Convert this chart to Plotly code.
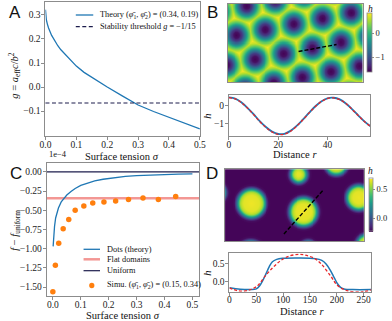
import numpy as np
import plotly.graph_objects as go

W, H = 392, 321
SERIF = "Liberation Serif"
SANS = "Liberation Sans"
FRAME = "#8c8c8c"
BLUE = "#1f77b4"
RED = "#e8262a"
NAVY = "#1c1c4c"
ORANGE = "#ff7f0e"
SALMON = "rgba(236,96,90,0.65)"

# ---------------- Panel A: effective coupling g vs surface tension
sigma_a = [0, 0.001, 0.003, 0.006, 0.01, 0.02, 0.03, 0.04, 0.05, 0.075, 0.1,
           0.125, 0.15, 0.175, 0.2, 0.25, 0.3, 0.35, 0.4, 0.45, 0.5]
g_theory = [0.322, 0.297, 0.279, 0.263, 0.246, 0.215, 0.192, 0.172, 0.155, 0.12, 0.087,
            0.061, 0.04, 0.019, 0.0, -0.038, -0.075, -0.102, -0.125, -0.15, -0.174]
g_threshold = -1 / 15

# ---------------- Panel C: free energy difference (units of 1e-4)
sigma_c_theory = [0.001, 0.003, 0.006, 0.01, 0.015, 0.02, 0.03, 0.04, 0.05, 0.065, 0.08,
                  0.1, 0.125, 0.15, 0.18, 0.22, 0.26, 0.3, 0.35, 0.4, 0.45, 0.5]
df_theory = [-0.97, -0.83, -0.71, -0.6, -0.52, -0.47, -0.39, -0.34, -0.3, -0.255, -0.215,
             -0.175, -0.14, -0.115, -0.095, -0.072, -0.058, -0.047, -0.038, -0.032, -0.028, -0.025]
df_flat = -0.342
df_uniform = 0.0
sigma_c_sim = [0.0, 0.009, 0.021, 0.037, 0.057, 0.08, 0.111, 0.143, 0.183, 0.225, 0.271,
               0.323, 0.378, 0.44]
df_sim = [-1.56, -1.215, -0.93, -0.74, -0.62, -0.50, -0.445, -0.405, -0.393, -0.38, -0.358,
          -0.34, -0.358, -0.32]

# ---------------- Panel B: hexagonal pattern of depressions and its line profile
r_b = [0, 2.5, 5, 7.5, 10, 12.5, 15, 17.5, 20, 22.5, 25, 27.5, 30, 32.5, 35, 37.5,
       40, 42.5, 45, 47.5, 50, 52.5, 55, 57.5]
h_b_theory = [0.45, 0.38, 0.18, -0.12, -0.47, -0.85, -1.17, -1.42, -1.55, -1.54, -1.38, -1.11,
              -0.77, -0.40, -0.05, 0.23, 0.40, 0.43, 0.34, 0.12, -0.19, -0.53, -0.86, -1.13]
h_b_sim = [0.44, 0.37, 0.17, -0.13, -0.49, -0.87, -1.19, -1.44, -1.57, -1.56, -1.40, -1.12,
           -0.78, -0.41, -0.06, 0.22, 0.39, 0.42, 0.33, 0.11, -0.20, -0.54, -0.87, -1.14]
b_dot_x = [-10.3, 19.3, 48.9, 78.5, 108.1, 137.7, -20.7, 8.9, 38.5, 68.1, 97.7, 127.3, 156.9,
           -1.5, 28.1, 57.7, 87.3, 116.9, 146.5, -11.9, 17.7, 47.3, 76.9, 106.5, 136.1, 165.7,
           7.3, 36.9, 66.5, 96.1, 125.7, 155.3]
b_dot_y = [7.7, 2.1, -3.5, -9.1, -14.7, -20.3, 36.9, 31.3, 25.7, 20.1, 14.5, 8.9, 3.3,
           60.5, 54.9, 49.3, 43.7, 38.1, 32.5, 89.7, 84.1, 78.5, 72.9, 67.3, 61.7, 56.1,
           113.3, 107.7, 102.1, 96.5, 90.9, 85.3]
b_rad_d = [0, 3, 6, 9, 12, 15, 17.4, 60]
b_rad_h = [-1.6, -1.5, -1.15, -0.55, 0.1, 0.55, 0.8, 0.83]
b_cut_x = [72.8, 112.0]
b_cut_y = [47.5, 40.5]
b_size = (139.0, 78.0)
b_hrange = (-1.61, 0.85)

# ---------------- Panel D: coarsened bright dots and a profile through one of them
r_d_theory = [0, 20, 40, 50, 56, 62, 68, 74, 80, 88, 100, 130, 160, 172, 180, 188, 195,
              201, 207, 215, 230, 264]
h_d_theory = [-0.17, -0.21, -0.22, -0.2, -0.12, 0.03, 0.22, 0.42, 0.56, 0.63, 0.66, 0.67,
              0.65, 0.6, 0.5, 0.32, 0.12, -0.05, -0.16, -0.21, -0.22, -0.22]
r_d_sim = [0, 15, 33, 51, 66, 81, 96, 111, 129, 141, 159, 171, 189, 201, 219, 249, 264]
h_d_sim = [-0.17, -0.25, -0.25, -0.13, 0.15, 0.4, 0.6, 0.72, 0.77, 0.75, 0.65, 0.5, 0.15,
           -0.1, -0.25, -0.28, -0.23]
d_dot_x = [27.3, 81.0, 76.0, 114.8, 138.0, -8.5, 26.5, 85.7, 146.0]
d_dot_y = [34.0, 42.5, 5.0, -6.0, 28.2, 23.2, 85.6, 79.2, 75.7]
d_dot_R = [14, 14, 8, 11, 12, 8.5, 13.6, 7, 10]
d_edge_d = [0, 8, 10, 11.3, 12.7, 14, 15.4, 16.7, 18, 20, 300]
d_edge_h = [0.67, 0.65, 0.61, 0.56, 0.42, 0.22, 0.03, -0.12, -0.2, -0.22, -0.22]
d_cut_x = [60.7, 101.3]
d_cut_y = [64.7, 20.7]
d_size = (143.3, 71.7)
d_hrange = (-0.23, 0.69)


def px_x(x):
    return x / W


def px_y(y):
    return 1 - y / H


# height fields for the two maps
bx = np.arange(0, b_size[0] + 0.01, 0.5)
by = np.arange(0, b_size[1] + 0.01, 0.5)
BX, BY = np.meshgrid(bx, by)
dist_b = np.sqrt((BX[..., None] - np.array(b_dot_x)) ** 2 + (BY[..., None] - np.array(b_dot_y)) ** 2)
zb = np.interp(dist_b.min(axis=-1), b_rad_d, b_rad_h)

dx = np.arange(0, d_size[0] + 0.01, 0.5)
dy = np.arange(0, d_size[1] + 0.01, 0.5)
DX, DY = np.meshgrid(dx, dy)
dist_d = np.sqrt((DX[..., None] - np.array(d_dot_x)) ** 2 + (DY[..., None] - np.array(d_dot_y)) ** 2)
zd = np.interp(dist_d - np.array(d_dot_R) + 14, d_edge_d, d_edge_h).max(axis=-1)

fig = go.Figure()

# A
fig.add_trace(go.Scatter(x=sigma_a, y=g_theory, mode="lines", line=dict(color=BLUE, width=1.3),
                         xaxis="x", yaxis="y", showlegend=False))
# C
fig.add_trace(go.Scatter(x=sigma_c_theory, y=df_theory, mode="lines", line=dict(color=BLUE, width=1.3),
                         xaxis="x2", yaxis="y2", showlegend=False))
fig.add_trace(go.Scatter(x=sigma_c_sim, y=df_sim, mode="markers",
                         marker=dict(color=ORANGE, size=5.5, line=dict(width=0)),
                         xaxis="x2", yaxis="y2", showlegend=False))
# B map
fig.add_trace(go.Heatmap(
    x=bx, y=by, z=zb, colorscale="Viridis", zmin=b_hrange[0], zmax=b_hrange[1],
    xaxis="x3", yaxis="y3",
    colorbar=dict(x=px_x(372.7), xanchor="left", y=px_y(42.5), yanchor="middle",
                  len=59 / H, thickness=5, xpad=0, ypad=0, outlinewidth=0.8, outlinecolor=FRAME,
                  tickvals=[-1, 0], ticks="outside", ticklen=2, tickcolor=FRAME,
                  tickfont=dict(family=SERIF, size=8.5, color="#222"))))
fig.add_trace(go.Scatter(x=b_cut_x, y=b_cut_y, mode="lines",
                         line=dict(color="black", width=1.4, dash="4px,2px"),
                         xaxis="x3", yaxis="y3", showlegend=False))
# B profile
fig.add_trace(go.Scatter(x=r_b, y=h_b_theory, mode="lines", line=dict(color=BLUE, width=1.8, shape="spline"),
                         xaxis="x4", yaxis="y4", showlegend=False))
fig.add_trace(go.Scatter(x=r_b, y=h_b_sim, mode="lines",
                         line=dict(color=RED, width=1.3, dash="3px,2px", shape="spline"),
                         xaxis="x4", yaxis="y4", showlegend=False))
# D map
fig.add_trace(go.Heatmap(
    x=dx, y=dy, z=zd, colorscale="Viridis", zmin=d_hrange[0], zmax=d_hrange[1],
    xaxis="x5", yaxis="y5",
    colorbar=dict(x=px_x(374), xanchor="left", y=px_y(205), yanchor="middle",
                  len=53.4 / H, thickness=4, xpad=0, ypad=0, outlinewidth=0.8, outlinecolor=FRAME,
                  tickvals=[0, 0.5], tickformat=".1f", ticks="outside", ticklen=2, tickcolor=FRAME,
                  tickfont=dict(family=SERIF, size=8.5, color="#222"))))
fig.add_trace(go.Scatter(x=d_cut_x, y=d_cut_y, mode="lines",
                         line=dict(color="black", width=1.4, dash="4px,2px"),
                         xaxis="x5", yaxis="y5", showlegend=False))
# D profile
fig.add_trace(go.Scatter(x=r_d_theory, y=h_d_theory, mode="lines", line=dict(color=BLUE, width=1.5, shape="spline"),
                         xaxis="x6", yaxis="y6", showlegend=False))
fig.add_trace(go.Scatter(x=r_d_sim, y=h_d_sim, mode="lines",
                         line=dict(color=RED, width=1.3, dash="3px,2px", shape="spline"),
                         xaxis="x6", yaxis="y6", showlegend=False))

tickfont = dict(family=SERIF, size=9.5, color="#222")
common = dict(showgrid=False, zeroline=False, showline=True, mirror=True, linecolor=FRAME,
              linewidth=1, ticks="outside", ticklen=3, tickwidth=1, tickcolor=FRAME,
              tickfont=tickfont)
xcommon = dict(common, ticklabelstandoff=-3)
ycommon = dict(common, ticklabelstandoff=-1)
mapax = dict(showgrid=False, zeroline=False, showline=True, mirror=True, linecolor=FRAME,
             linewidth=1, ticks="", showticklabels=False)

fig.update_layout(
    width=W, height=H, margin=dict(l=0, r=0, t=0, b=0),
    paper_bgcolor="white", plot_bgcolor="white", showlegend=False,
    xaxis=dict(xcommon, domain=[px_x(40.7), px_x(200)], range=[0, 0.5],
               tickvals=[0, 0.1, 0.2, 0.3, 0.4, 0.5], tickformat=".1f", anchor="y"),
    yaxis=dict(ycommon, domain=[px_y(136), px_y(2)], range=[-0.204, 0.354],
               tickvals=[-0.1, 0, 0.1, 0.2, 0.3], tickformat=".1f", anchor="x"),
    xaxis2=dict(xcommon, domain=[px_x(42), px_x(199.5)], range=[-0.022, 0.525],
                tickvals=[0, 0.1, 0.2, 0.3, 0.4, 0.5], tickformat=".1f", anchor="y2"),
    yaxis2=dict(ycommon, domain=[px_y(296), px_y(163)], range=[-1.617, 0.117],
                tickvals=[-1.5, -1.25, -1.0, -0.75, -0.5, -0.25, 0.0], tickformat=".2f", anchor="x2"),
    xaxis3=dict(mapax, domain=[px_x(229), px_x(368)], range=[0, b_size[0]], anchor="y3"),
    yaxis3=dict(mapax, domain=[px_y(82), px_y(4)], range=[b_size[1], 0], anchor="x3"),
    xaxis4=dict(xcommon, domain=[px_x(230), px_x(376)], range=[0, 57.5],
                tickvals=[0, 20, 40], anchor="y4"),
    yaxis4=dict(ycommon, domain=[px_y(136), px_y(95)], range=[-1.66, 0.58],
                tickvals=[-1, 0], anchor="x4"),
    xaxis5=dict(mapax, domain=[px_x(226), px_x(369.3)], range=[0, d_size[0]], anchor="y5"),
    yaxis5=dict(mapax, domain=[px_y(241), px_y(169.3)], range=[d_size[1], 0], anchor="x5"),
    xaxis6=dict(common, ticklabelstandoff=-4, domain=[px_x(230.5), px_x(376.7)], range=[0, 264],
                tickvals=[0, 50, 100, 150, 200, 250], anchor="y6"),
    yaxis6=dict(ycommon, domain=[px_y(291.7), px_y(253.3)], range=[-0.28, 0.80],
                tickvals=[0, 0.5], tickformat=".1f", anchor="x6"),
)

# horizontal reference levels
fig.add_shape(type="line", xref="x domain", x0=0, x1=1, yref="y", y0=g_threshold, y1=g_threshold,
              line=dict(color=NAVY, width=1.2, dash="4px,2.5px"))
fig.add_shape(type="line", xref="x2 domain", x0=0, x1=1, yref="y2", y0=df_flat, y1=df_flat,
              line=dict(color=SALMON, width=2.5), layer="below")
fig.add_shape(type="line", xref="x2 domain", x0=0, x1=1, yref="y2", y0=df_uniform, y1=df_uniform,
              line=dict(color=NAVY, width=1.2), layer="below")

ann = []


def text(x, y, s, size=10.5, xanchor="center", yanchor="middle", family=SERIF, angle=0):
    ann.append(dict(x=px_x(x), y=px_y(y), xref="paper", yref="paper", text=s, showarrow=False,
                    xanchor=xanchor, yanchor=yanchor, textangle=angle,
                    font=dict(family=family, size=size, color="#111")))


def key_line(x0, x1, y, color, width, dash="solid"):
    fig.add_shape(type="line", xref="paper", yref="paper", x0=px_x(x0), x1=px_x(x1),
                  y0=px_y(y), y1=px_y(y), line=dict(color=color, width=width, dash=dash))


# panel letters
for letter, (lx, ly) in {"A": (9, 12), "B": (213, 12), "C": (10, 174), "D": (213, 174)}.items():
    text(lx, ly, letter, size=17, family=SANS)

# axis titles
text(120, 156, "Surface tension <i>σ</i>")
text(121, 315, "Surface tension <i>σ</i>")
text(9, 75, "<i>g</i> = <i>a</i><sub>eff</sub><i>c</i>/<i>b</i><sup>2</sup>", angle=-90)
text(9, 230, "<i>f</i> − <i>f</i><sub>uniform</sub>", angle=-90)
text(298, 154, "Distance <i>r</i>")
text(305, 311, "Distance <i>r</i>")
text(207, 116, "<i>h</i>", angle=-90)
text(207, 273, "<i>h</i>", angle=-90)
text(375.5, 9, "<i>h</i>", size=9.5)
text(375.5, 171, "<i>h</i>", size=9.5)
text(42, 161, "1e−4", size=8.5, xanchor="left", yanchor="bottom")

# legend of A
LF = 8.3
key_line(72, 90, 15, BLUE, 1.3)
text(95, 15, "Theory (<i>φ̄</i><sub>1</sub>, <i>φ̄</i><sub>2</sub>) = (0.34, 0.19)", size=LF, xanchor="left")
key_line(72, 90, 26.7, NAVY, 1.2, "4px,2.5px")
text(95, 26.7, "Stability threshold <i>g</i> = −1/15", size=LF, xanchor="left")

# legend of C
key_line(80, 97, 249.3, BLUE, 1.3)
text(101.7, 249.3, "Dots (theory)", size=LF, xanchor="left")
key_line(80, 97, 259.3, SALMON, 2.5)
text(101.7, 259.3, "Flat domains", size=LF, xanchor="left")
key_line(80, 97, 270.7, NAVY, 1.2)
text(101.7, 270.7, "Uniform", size=LF, xanchor="left")
fig.add_shape(type="circle", xref="paper", yref="paper", x0=px_x(85.8), x1=px_x(91.2),
              y0=px_y(282.8), y1=px_y(288.2), fillcolor=ORANGE, line=dict(width=0))
text(101.7, 285, "Simu. (<i>φ̄</i><sub>1</sub>, <i>φ̄</i><sub>2</sub>) = (0.15, 0.34)", size=LF, xanchor="left")

fig.update_layout(annotations=ann)
fig.write_html("out.html")
